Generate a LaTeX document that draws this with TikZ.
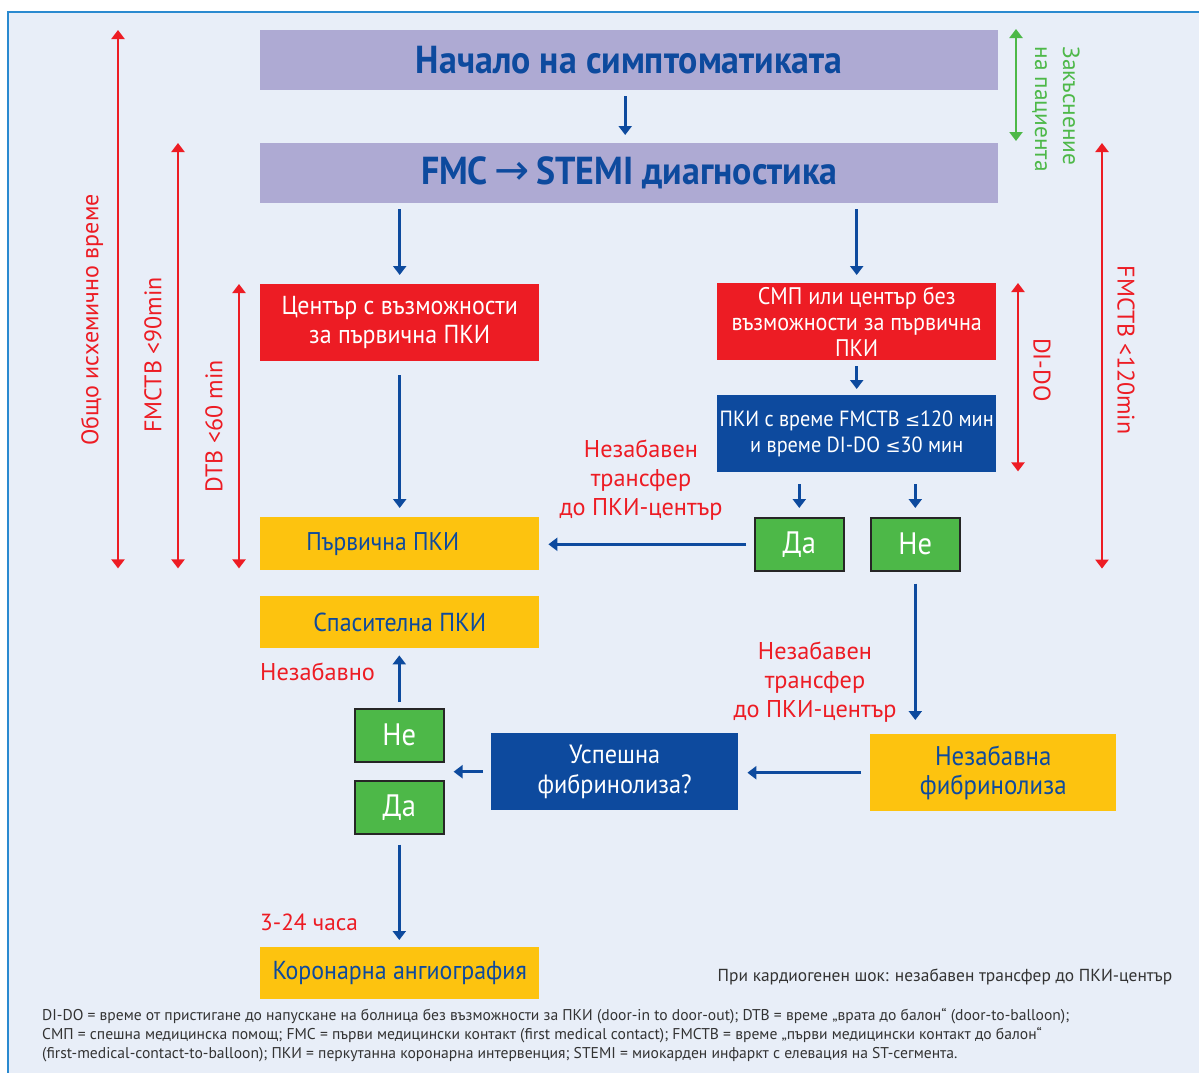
\documentclass[tikz,border=0pt]{standalone}
\usepackage{fontspec}
\setmainfont{PT Sans}
\newfontfamily\cond{PT Sans}[FakeStretch=0.92]
\newfontfamily\dv{DejaVu Sans}
\usetikzlibrary{arrows.meta,calc}
\definecolor{bgc}{HTML}{E8EEF8}
\definecolor{framec}{HTML}{2A8AD0}
\definecolor{lav}{HTML}{AEAAD3}
\definecolor{redc}{HTML}{ED1C24}
\definecolor{dblue}{HTML}{0D4A9E}
\definecolor{yel}{HTML}{FDC30F}
\definecolor{grn}{HTML}{4DB848}
\definecolor{grnt}{HTML}{4DB848}
\definecolor{txtgray}{HTML}{333333}
\newcommand{\fs}[1]{\fontsize{#1}{#1}\selectfont}
\begin{document}
\begin{tikzpicture}[x=1pt,y=-1pt,
  box/.style={rectangle, inner sep=0pt, align=center, anchor=north west},
  lavbox/.style={box, fill=lav, minimum width=738pt, minimum height=60pt, text=dblue,
     font=\cond\bfseries\fontsize{39}{42}\selectfont},
  redbox/.style={box, fill=redc, text=white, minimum width=279pt, minimum height=77pt,
     font=\cond\fontsize{26}{29}\selectfont},
  bluebox/.style={box, fill=dblue, text=white, minimum width=279pt, minimum height=77pt,
     font=\cond\fontsize{22}{26}\selectfont},
  yelbox/.style={box, fill=yel, text=dblue, minimum width=279pt, minimum height=52pt,
     font=\cond\fontsize{26}{29}\selectfont},
  yesno/.style={box, fill=grn, draw=black!85, line width=1.6pt, text=white,
     minimum width=89pt, minimum height=53pt, font=\cond\fontsize{31}{34}\selectfont},
  redlbl/.style={text=redc, align=center, inner sep=0pt, font=\fontsize{24.3}{29}\selectfont},
  rotlbl/.style={text=redc, align=center, inner sep=0pt, font=\fontsize{24}{28}\selectfont},
  barr/.style={draw=dblue, line width=2.6pt, -{Triangle[width=13pt,length=9pt]}},
  rarr/.style={draw=redc, line width=2.8pt, {Triangle[width=13pt,length=9pt]}-{Triangle[width=13pt,length=9pt]}},
  garr/.style={draw=grn, line width=2.8pt, {Triangle[width=13pt,length=9pt]}-{Triangle[width=13pt,length=9pt]}}
]
\useasboundingbox (0,0) rectangle (1199,1072);
\fill[white] (0,0) rectangle (1199,1072);
\begin{scope}
  \clip (0,0) rectangle (1199,1072);
  \draw[framec, line width=2pt, fill=bgc] (8,12) rectangle (1230,1100);
\end{scope}

% boxes
\node[lavbox] (a) at (260,30) {Начало на симптоматиката};
\node[lavbox] (b) at (260,143) {FMC\,{\dv\mdseries\fontsize{42}{42}\selectfont →}\,STEMI диагностика};
\node[redbox] (c) at (260,284) {Център с възможности\\за първична ПКИ};
\node[redbox, font=\cond\fontsize{24}{26}\selectfont] (d) at (717,283) {СМП или център без\\възможности за първична\\ПКИ};
\node[bluebox] (e) at (717,395) {ПКИ с време FMCTB {\dv\fs{18}≤}120 мин\\и време DI-DO {\dv\fs{18}≤}30 мин};
\node[yesno] (da1) at (754,517) {Да};
\node[yesno] (ne1) at (870,517) {Не};
\node[yelbox, minimum height=53pt, font=\cond\fontsize{25.6}{29}\selectfont] (f) at (260,517) {\hspace*{-34pt}Първична ПКИ};
\node[yelbox] (g) at (260,596) {Спасителна ПКИ};
\node[yesno] (ne2) at (354,708) {Не};
\node[yesno] (da2) at (354,780) {Да};
\node[bluebox, minimum width=247pt, font=\cond\fontsize{26.4}{30}\selectfont] (h) at (491,733) {Успешна\\фибринолиза?};
\node[yelbox, minimum width=246pt, minimum height=77pt, font=\cond\fontsize{27}{29}\selectfont] (i) at (870,734) {Незабавна\\фибринолиза};
\node[yelbox] (j) at (260,947) {Коронарна ангиография};

% red labels
\node[redlbl] (l1) at (641,480) {Незабавен\\трансфер\\до ПКИ-център};
\node[redlbl] (l2) at (815,682) {Незабавен\\трансфер\\до ПКИ-център};
\node[redlbl, anchor=west] (l3) at (260,672) {Незабавно};
\node[redlbl, anchor=west, font=\fontsize{23.3}{29}\selectfont] (l4) at (260,922) {3-24 часа};

% blue arrows
\draw[barr, shorten <=6pt, shorten >=8pt] ([xshift=-4pt]a.south) -- ([xshift=-4pt]b.north);
\draw[barr, shorten <=6pt, shorten >=9pt] (b.south -| c.north) -- (c.north);
\draw[barr, shorten <=6pt, shorten >=8pt] (b.south -| d.north) -- (d.north);
\draw[barr, shorten <=14pt, shorten >=9pt] (c.south) -- (f.north -| c.south);
\draw[barr, shorten <=6pt, shorten >=6pt] (d.south) -- (e.north);
\draw[barr, shorten <=12pt, shorten >=9pt] (e.south -| da1.north) -- (da1.north);
\draw[barr, shorten <=12pt, shorten >=9pt] (e.south -| ne1.north) -- (ne1.north);
\draw[barr, shorten <=8pt, shorten >=9pt] (da1.west) -- (da1.west -| f.east);
\draw[barr, shorten <=12pt, shorten >=14pt] (ne1.south) -- (ne1.south |- i.north);
\draw[barr, shorten <=9pt, shorten >=9pt] (i.west) -- (i.west -| h.east);
\draw[barr, shorten <=8pt, shorten >=9pt] (h.west) -- (h.west -| da2.east);
\draw[barr, shorten <=6pt, shorten >=7pt] (ne2.north) -- (ne2.north |- g.south);
\draw[barr, shorten <=10pt, shorten >=7pt] (da2.south) -- (da2.south |- j.north);

% range arrows
\coordinate (xl1) at (118,0);
\coordinate (xl2) at (178,0);
\coordinate (xl3) at (239,0);
\coordinate (xg) at (1016,0);
\coordinate (xr2) at (1018,0);
\coordinate (xr3) at (1102,0);
\draw[rarr] (a.north -| xl1) -- ([yshift=2pt]f.south -| xl1);
\draw[rarr] (b.north -| xl2) -- ([yshift=2pt]f.south -| xl2);
\draw[rarr] (c.north -| xl3) -- ([yshift=2pt]f.south -| xl3);
\draw[garr] ([yshift=1pt]a.north -| xg) -- ([yshift=2pt]b.north -| xg);
\draw[rarr] (d.north -| xr2) -- ([yshift=1pt]e.south -| xr2);
\draw[rarr] (b.north -| xr3) -- ([yshift=3pt]ne1.south -| xr3);

\node[rotlbl, rotate=90] (t1) at (92,320) {Общо исхемично време};
\node[rotlbl, rotate=90] (t2) at (153,355) {FMCTB <90min};
\node[rotlbl, rotate=90] (t3) at (214,426) {DTB <60 min};
\node[rotlbl, rotate=-90, text=grnt, align=left, font=\fontsize{23.3}{28}\selectfont] (t4) at (1056,109) {Закъснение\\на пациента};
\node[rotlbl, rotate=-90] (t5) at (1042,370) {DI-DO};
\node[rotlbl, rotate=-90] (t6) at (1126,350) {FMCTB <120min};

% notes
\node[text=txtgray, inner sep=0pt, font=\fontsize{17.4}{19}\selectfont] (shock) at (945,977) {При кардиогенен шок: незабавен трансфер до ПКИ-център};
\node[text=txtgray, inner sep=0pt, anchor=north west, align=left, font=\fontsize{15.6}{19}\selectfont] (note) at (42,1008)
 {DI-DO = време от пристигане до напускане на болница без възможности за ПКИ (door-in to door-out); DTB = време „врата до балон“ (door-to-balloon);\\
  СМП = спешна медицинска помощ; FMC = първи медицински контакт (first medical contact); FMCTB = време „първи медицински контакт до балон“\\
  (first-medical-contact-to-balloon); ПКИ = перкутанна коронарна интервенция; STEMI = миокарден инфаркт с елевация на ST-сегмента.};
\end{tikzpicture}
\end{document}
